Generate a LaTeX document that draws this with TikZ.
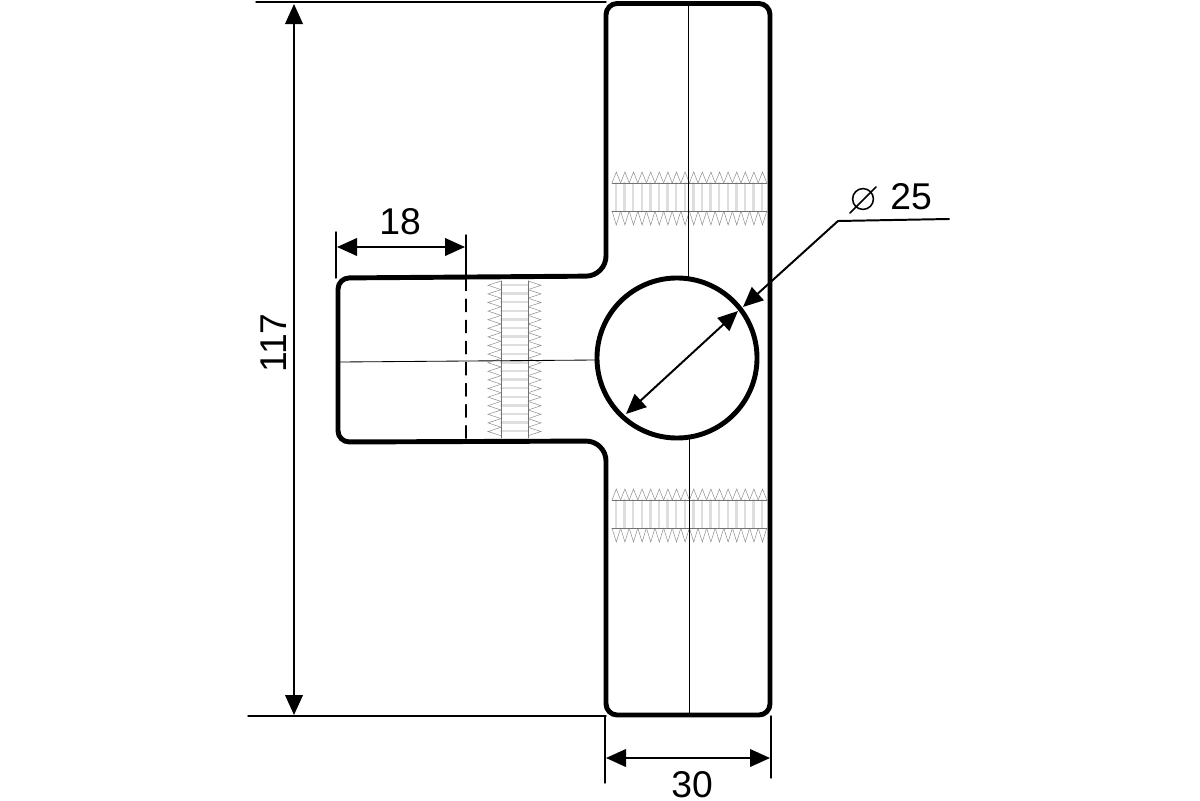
\documentclass[tikz,border=0pt]{standalone}
\usepackage{fontspec}
\setmainfont{Liberation Sans}
\usetikzlibrary{arrows.meta}
\tikzset{
	part/.style={line width=3.5pt,line join=round},
	dimtip/.tip={Stealth[length=0.5cm,width=0.44cm,inset=0pt]},
	dimline/.style={line width=1.4pt,dimtip-dimtip},
	extline/.style={line width=1pt},
	centerline/.style={line width=0.6pt},
	threadline/.style={line width=0.5pt,black!55},
	threadzig/.style={line width=0.35pt,black!45},
	threadbar/.style={line width=1.8pt,black!13},
	dimtext/.style={font=\fontsize{26.5}{30}\selectfont,inner sep=0pt}
}
\begin{document}
\begin{tikzpicture}[
	x=0.025cm,
	y=-0.025cm,
	line cap=round
	]
	\useasboundingbox (0,0) rectangle (1200,800);
	% threads in the bar
	\foreach \ytop/\ylow in {183/211,500/528} {
		\foreach \i in {0,...,17} {
			\draw[threadbar] (616+8.6*\i,\ytop) -- (616+8.6*\i,\ylow);
			\draw[threadzig] (612+8.6*\i,\ytop) -- (616.3+8.6*\i,\ytop-11) -- (620.6+8.6*\i,\ytop);
			\draw[threadzig] (612+8.6*\i,\ylow) -- (616.3+8.6*\i,\ylow+14) -- (620.6+8.6*\i,\ylow);
		}
		\draw[threadline] (612,\ytop) -- (767,\ytop);
		\draw[threadline] (612,\ylow) -- (767,\ylow);
	}
	% thread in the stem
	\foreach \i in {0,...,17} {
		\draw[threadbar] (501,285+8.6*\i) -- (528,285+8.6*\i);
		\draw[threadzig] (501,281+8.6*\i) -- (488,285.3+8.6*\i) -- (501,289.6+8.6*\i);
		\draw[threadzig] (528,281+8.6*\i) -- (541,285.3+8.6*\i) -- (528,289.6+8.6*\i);
	}
	\draw[threadline] (501,281) -- (501,438);
	\draw[threadline] (528,281) -- (528,438);
	% center lines
	\draw[centerline] (688,4) -- (688,278);
	\draw[centerline] (689,438) -- (689,715);
	\draw[centerline] (340,362) -- (596,360);
	\draw[line width=0.8pt,dash pattern=on 9pt off 6pt] (466,278) -- (466,442);
	% body
	\draw[part] (606,150) [rounded corners=0.28cm] -- (606,3.5) -- (770,3.5) -- (770,715) -- (606,715)
		[rounded corners=0.5cm] -- (606,441) [rounded corners=0.28cm] -- (338,442) -- (338,278)
		[rounded corners=0.5cm] -- (606,276) [sharp corners] -- cycle;
	\node[circle,draw,line width=3.5pt,minimum size=4cm,inner sep=0pt] (bore) at (677,358) {};
	% dimensions
	\coordinate (topleft) at (256,2);
	\coordinate (topright) at (606,2);
	\coordinate (lowleft) at (248,716);
	\coordinate (lowright) at (606,716);
	\draw[extline] (topleft) -- (topright);
	\draw[extline] (lowleft) -- (lowright);
	\draw[dimline] (294,4) -- node[dimtext,rotate=90,pos=0.477,yshift=0.52cm] (len) {117} (294,715);
	\draw[extline] (336,232) -- (336,278);
	\draw[extline] (466,235) -- (466,278);
	\draw[dimline] (337,247) -- (465,247);
	\node[dimtext] (stem) at (400,222) {18};
	\draw[extline] (605,716) -- (605,783);
	\draw[extline] (771,716) -- (771,778);
	\draw[dimline] (606,758) -- (770,758);
	\node[dimtext] (width) at (692,785) {30};
	\draw[dimline] (626,414) -- (738,311);
	\coordinate (kneebore) at (838,221);
	\coordinate (endbore) at (949,219);
	\coordinate (tipbore) at (743,307);
	\draw[line width=1.4pt,line join=round,dimtip-] (tipbore) -- (kneebore) -- (endbore);
	\node[dimtext] (dia) at (911,197) {25};
	\node[circle,draw,line width=1.1pt,minimum size=0.52cm,inner sep=0pt] (diasign) at (863,199) {};
	\draw[line width=1.1pt] (850,213) -- (876,187);
\end{tikzpicture}
\end{document}
